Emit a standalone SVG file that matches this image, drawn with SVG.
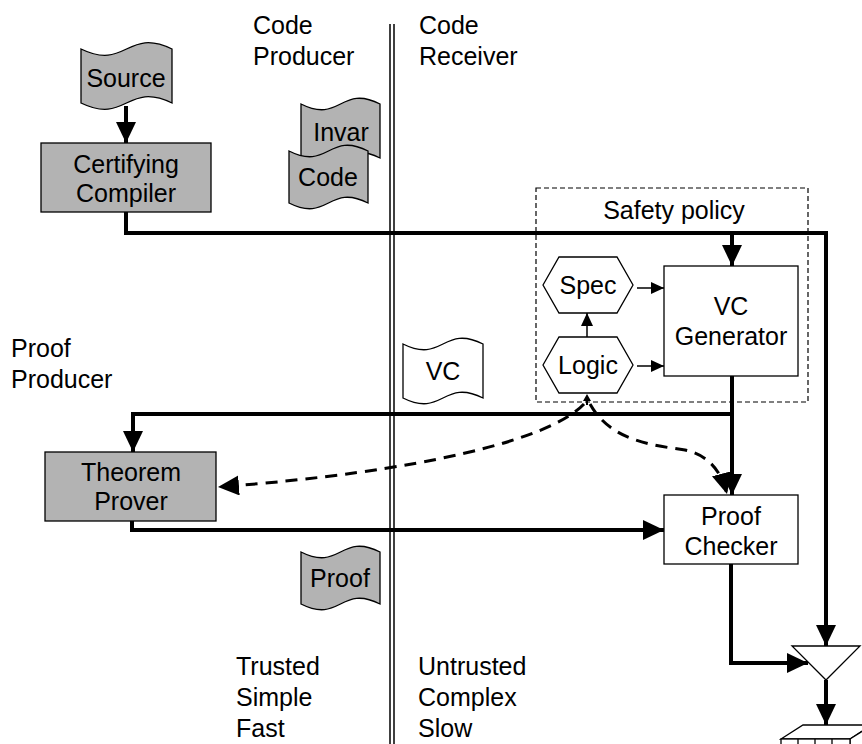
<svg xmlns="http://www.w3.org/2000/svg" width="862" height="744" viewBox="0 0 862 744">
<style>
text{font-family:"Liberation Sans",Arial,sans-serif;font-size:25px;fill:#000}
.c{text-anchor:middle}
.gray{fill:#b3b3b3;stroke:#000;stroke-width:1.3}
.white{fill:#fff;stroke:#000;stroke-width:1.3}
.thick{fill:none;stroke:#000;stroke-width:4}
.thin{fill:none;stroke:#000;stroke-width:1.5}
.dash{fill:none;stroke:#000;stroke-width:3;stroke-dasharray:12 8}
</style>
<defs>
<marker id="big" markerUnits="userSpaceOnUse" markerWidth="22" markerHeight="22" refX="21" refY="10" orient="auto" viewBox="0 0 22 22">
<path d="M0,0 L21,10 L0,20 Z" fill="#000"/>
</marker>
<marker id="small" markerUnits="userSpaceOnUse" markerWidth="14" markerHeight="14" refX="13" refY="6" orient="auto" viewBox="0 0 14 14">
<path d="M0,0 L13,6 L0,12 Z" fill="#000"/>
</marker>
</defs>

<g id="divider">
<line x1="390" y1="24" x2="390" y2="744" stroke="#000" stroke-width="1.5"/>
<line x1="394" y1="24" x2="394" y2="744" stroke="#000" stroke-width="1.5"/>
</g>

<g id="labels">
<text x="253" y="34">Code</text>
<text x="253" y="65">Producer</text>
<text x="419" y="34">Code</text>
<text x="419" y="65">Receiver</text>
<text x="11" y="357">Proof</text>
<text x="11" y="388">Producer</text>
<text x="236" y="675">Trusted</text>
<text x="236" y="706">Simple</text>
<text x="236" y="737">Fast</text>
<text x="418" y="675">Untrusted</text>
<text x="418" y="706">Complex</text>
<text x="418" y="737">Slow</text>
</g>

<g id="safety-policy">
<rect x="536" y="188" width="272" height="214" fill="none" stroke="#000" stroke-width="1.2" stroke-dasharray="5 3"/>
<text class="c" x="674" y="219">Safety policy</text>
</g>

<g id="connectors">
<path class="thick" d="M126,106 V143" marker-end="url(#big)"/>
<path class="thick" d="M126,212 V233 H826 V646" marker-end="url(#big)"/>
<path class="thick" d="M732,233 V266" marker-end="url(#big)"/>
<path class="thin" d="M637,288 H664" marker-end="url(#small)"/>
<path class="thin" d="M637,366 H664" marker-end="url(#small)"/>
<path class="thin" d="M587,337 V313" marker-end="url(#small)"/>
<path class="thick" d="M732,376 V414 H133 V452" marker-end="url(#big)"/>
<path class="thick" d="M732,414 V495" marker-end="url(#big)"/>
<path class="thick" d="M132,521 V530 H664" marker-end="url(#big)"/>
<path class="thick" d="M731,564 V663 H808" marker-end="url(#big)"/>
<path class="thick" d="M826,680 V725" marker-end="url(#big)"/>
<path class="dash" d="M584,404 C550,440 420,472 218,487" marker-end="url(#big)"/>
<path class="dash" d="M590,404 C610,440 650,445 685,450 C712,456 722,475 727,494" marker-end="url(#big)"/>
<path d="M587,394 L591,401 L583,401 Z M586,401 H588 V405 H586 Z" fill="#000"/>
</g>

<g id="source">
<path class="gray" d="M81,49 C126.5,71 126.5,27 172,49 L172,103 C126.5,81 126.5,125 81,103 Z"/>
<text class="c" x="126" y="87">Source</text>
</g>

<g id="compiler">
<rect class="gray" x="41" y="143" width="170" height="69"/>
<text class="c" x="126" y="173">Certifying</text>
<text class="c" x="126" y="202">Compiler</text>
</g>

<g id="invar">
<path class="gray" d="M301,104 C340.5,124 340.5,84 380,104 L380,158 C340.5,138 340.5,178 301,158 Z"/>
<text class="c" x="341" y="141">Invar</text>
</g>

<g id="code">
<path class="gray" d="M289,151 C328.5,171 328.5,131 368,151 L368,203 C328.5,183 328.5,223 289,203 Z"/>
<text class="c" x="328" y="186">Code</text>
</g>

<g id="spec">
<polygon class="white" points="543,285 559,257 617,257 633,285 617,313 559,313"/>
<text class="c" x="588" y="294">Spec</text>
</g>

<g id="logic">
<polygon class="white" points="543,365 559,337 617,337 633,365 617,393 559,393"/>
<text class="c" x="588" y="374">Logic</text>
</g>

<g id="vc-generator">
<rect class="white" x="664" y="266" width="134" height="110"/>
<text class="c" x="731" y="315">VC</text>
<text class="c" x="731" y="345">Generator</text>
</g>

<g id="vc">
<path class="white" d="M403,344 C443,364 443,324 483,344 L483,398 C443,378 443,418 403,398 Z"/>
<text class="c" x="443" y="380">VC</text>
</g>

<g id="theorem-prover">
<rect class="gray" x="45" y="452" width="171" height="69"/>
<text class="c" x="131" y="481">Theorem</text>
<text class="c" x="131" y="510">Prover</text>
</g>

<g id="proof-checker">
<rect class="white" x="664" y="495" width="134" height="69"/>
<text class="c" x="731" y="525">Proof</text>
<text class="c" x="731" y="555">Checker</text>
</g>

<g id="proof">
<path class="gray" d="M301,552 C340.5,572 340.5,532 380,552 L380,604 C340.5,584 340.5,624 301,604 Z"/>
<text class="c" x="340" y="587">Proof</text>
</g>

<g id="decision">
<polygon class="white" points="792,646 860,646 826,680"/>
</g>

<g id="output">
<polygon class="white" points="781,739 803,725 872,725 850,739"/>
<polygon class="white" points="850,739 872,725 872,760 850,774"/>
<rect class="white" x="781" y="739" width="69" height="30"/>
<line x1="798" y1="739" x2="798" y2="769" stroke="#000" stroke-width="1.3"/>
<line x1="815" y1="739" x2="815" y2="769" stroke="#000" stroke-width="1.3"/>
<line x1="832" y1="739" x2="832" y2="769" stroke="#000" stroke-width="1.3"/>
</g>
</svg>
